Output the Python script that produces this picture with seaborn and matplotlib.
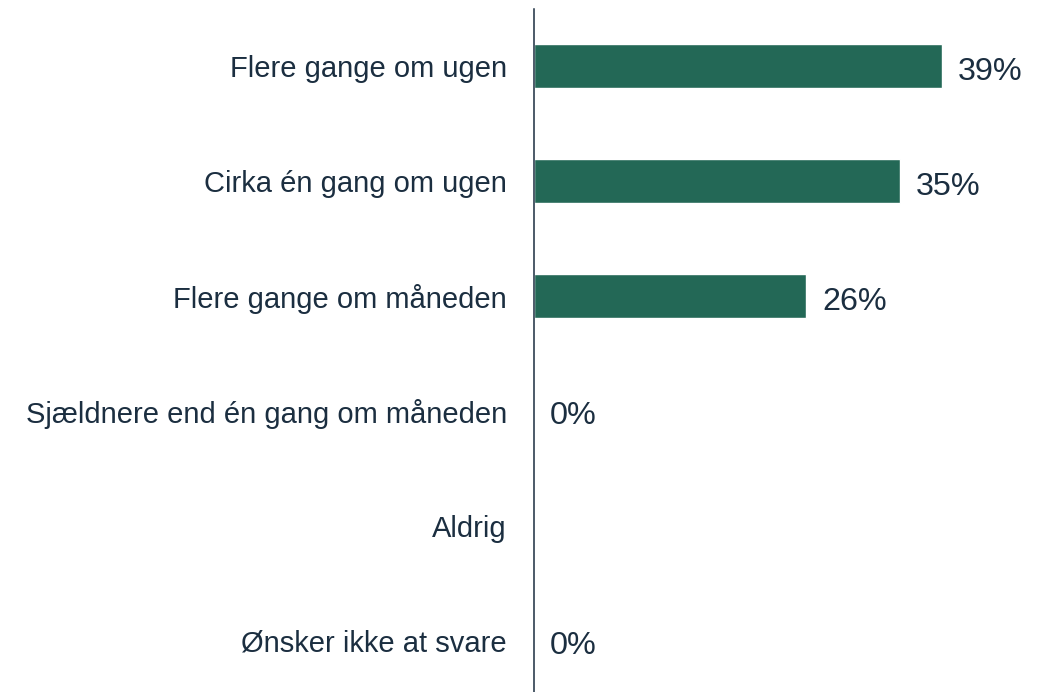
import matplotlib
matplotlib.use("Agg")
import matplotlib.pyplot as plt
import numpy as np
import pandas as pd
import seaborn as sns

categories = [
    "Flere gange om ugen",
    "Cirka én gang om ugen",
    "Flere gange om måneden",
    "Sjældnere end én gang om måneden",
    "Aldrig",
    "Ønsker ikke at svare",
]
values = [39, 35, 26, 0, np.nan, 0]

bar_color = "#236856"
text_color = "#1b2e40"

df = pd.DataFrame({"category": categories, "pct": values})

sns.set_style("white")
plt.rcParams["font.family"] = ["Liberation Sans", "DejaVu Sans"]

fig = plt.figure(figsize=(10.45, 6.92), dpi=100)
ax = fig.add_axes([534 / 1045, 0, 511 / 1045, 683 / 692])

sns.barplot(data=df.dropna(), x="pct", y="category", order=categories,
            color=bar_color, saturation=1, width=0.383, ax=ax, orient="h")

# value labels, Aldrig has none
for i, v in enumerate(values):
    if np.isnan(v):
        continue
    ax.annotate(f"{v:.0f}%", xy=(v, i), xytext=(11.5, -1.5), textcoords="offset points",
                ha="left", va="center_baseline", fontsize=23.3, color=text_color)

ax.set_xlim(0, 48.85)
ax.set_ylim(5.45, -0.5)
ax.set_xlabel("")
ax.set_ylabel("")
ax.set_xticks([])
ax.tick_params(axis="y", length=0, pad=19.5, labelsize=21, labelcolor=text_color)
for side in ["top", "right", "bottom"]:
    ax.spines[side].set_visible(False)
ax.spines["left"].set_color(text_color)
ax.spines["left"].set_linewidth(1.1)

fig.savefig("out.png", dpi=100)
